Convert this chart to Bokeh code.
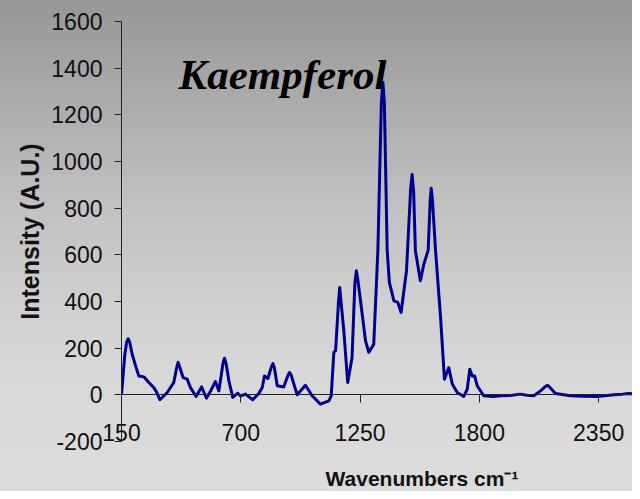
from bokeh.plotting import figure
from bokeh.models import (Range1d, FixedTicker, Label, ColumnDataSource, LinearAxis,
                          CustomJSTickFormatter, Title)
from bokeh.embed import file_html
from bokeh.resources import INLINE

# ---- data ----
wavenumbers = [150, 165, 174, 181, 188, 199, 215, 230, 253, 276, 299, 310, 327, 361, 391, 404, 411,
               418, 434, 453, 468, 494, 519, 542, 563, 583, 599, 618, 625, 632, 645, 663, 686, 699,
               722, 755, 783, 799, 809, 825, 841, 848, 855, 868, 898, 918, 925, 932, 960, 998,
               1029, 1067, 1106, 1117, 1129, 1137, 1150, 1156, 1162, 1175, 1193, 1213, 1226, 1233,
               1240, 1252, 1275, 1290, 1313, 1332, 1348, 1355, 1362, 1375, 1385, 1406, 1424, 1439,
               1464, 1483, 1490, 1497, 1505, 1528, 1544, 1564, 1573, 1578, 1584, 1598, 1621, 1639,
               1659, 1675, 1698, 1728, 1744, 1756, 1767, 1778, 1790, 1820, 1865, 1900, 1950, 1988,
               2020, 2051, 2082, 2108, 2115, 2122, 2151, 2220, 2280, 2343, 2420, 2460, 2489, 2543]
intensity = [0, 170, 228, 240, 225, 175, 124, 81, 77, 53, 31, 15, -21, 10, 53, 115, 139,
             120, 74, 67, 31, -7, 34, -14, 20, 57, 17, 135, 157, 135, 60, -11, 7, -5,
             3, -21, 6, 31, 81, 70, 120, 134, 115, 39, 34, 85, 96, 85, 0, 41,
             -4, -40, -26, -4, 182, 189, 390, 460, 400, 275, 53, 160, 480, 532,
             490, 403, 232, 182, 217, 618, 1250, 1340, 1250, 618, 482, 403, 396, 353,
             532, 880, 944, 870, 618, 489, 560, 620, 830, 885, 830, 618, 332, 67,
             117, 46, 10, -7, 24, 110, 81, 81, 39, -4, -7, -4, -2, 3,
             -2, -4, 17, 38, 41, 35, 6, -4, -6, -7, 0, 3, 6, 0]
x_ticks = [150, 700, 1250, 1800, 2350]
y_ticks = [-200, 0, 200, 400, 600, 800, 1000, 1200, 1400, 1600]

source = ColumnDataSource(data=dict(w=wavenumbers, i=intensity))

p = figure(width=632, height=491,
           x_range=Range1d(150, 2506), y_range=Range1d(-200, 1600),
           output_backend="svg", toolbar_location=None,
           min_border_left=121, min_border_right=0,
           min_border_top=21, min_border_bottom=50)

p.background_fill_color = None
p.border_fill_color = None
p.outline_line_color = None
p.styles = {"background": "linear-gradient(180deg, #979797 0%, #c4c4c4 45%, #d8d8d8 75%, #dcdcdc 100%)"}
p.grid.visible = False

p.line(x="w", y="i", source=source, line_color="#000090", line_width=3, line_join="round")

axis_color = "#222222"
label_color = "#111111"
plain = CustomJSTickFormatter(code="return tick.toString()")

# x axis line and ticks crossing at zero (labels drawn by the second axis)
p.xaxis.fixed_location = 0
p.xaxis.ticker = FixedTicker(ticks=x_ticks)
p.xaxis.formatter = CustomJSTickFormatter(code="return ''")
p.xaxis.minor_tick_line_color = None
p.xaxis.major_tick_in = 0
p.xaxis.major_tick_out = 8
p.xaxis.axis_line_color = axis_color
p.xaxis.major_tick_line_color = axis_color

# tick labels of the x axis (its blank axis label only reserves room for the title below)
xlab = LinearAxis(ticker=FixedTicker(ticks=x_ticks), formatter=plain)
xlab.axis_line_color = None
xlab.major_tick_line_color = None
xlab.minor_tick_line_color = None
xlab.major_tick_in = 0
xlab.major_tick_out = 0
xlab.major_label_standoff = -18
xlab.major_label_text_font = "Liberation Sans"
xlab.major_label_text_font_size = "23px"
xlab.major_label_text_color = label_color
xlab.axis_label = "\u00a0"
xlab.axis_label_standoff = 0
xlab.axis_label_text_font_size = "15px"
p.add_layout(xlab, "below")

p.yaxis.ticker = FixedTicker(ticks=y_ticks)
p.yaxis.formatter = plain
p.yaxis.minor_tick_line_color = None
p.yaxis.major_tick_in = 0
p.yaxis.major_tick_out = 7
p.yaxis.major_label_standoff = 12
p.yaxis.axis_line_color = axis_color
p.yaxis.major_tick_line_color = axis_color
p.yaxis.major_label_text_font = "Liberation Sans"
p.yaxis.major_label_text_font_size = "23px"
p.yaxis.major_label_text_color = label_color
p.yaxis.axis_label = "Intensity (A.U.)"
p.yaxis.axis_label_text_font = "Liberation Sans"
p.yaxis.axis_label_text_font_style = "bold"
p.yaxis.axis_label_text_font_size = "25px"
p.yaxis.axis_label_text_color = label_color
p.yaxis.axis_label_standoff = 4

p.add_layout(Label(x=413, y=1373, text="Kaempferol", text_font="Liberation Serif",
                   text_font_style="bold italic", text_font_size="43px",
                   text_color="#000000", text_baseline="alphabetic"))

p.add_layout(Title(text="Wavenumbers cm\u207b\u00b9", align="left", offset=204, standoff=2,
                   vertical_align="bottom",
                   text_font="Liberation Sans", text_font_style="bold",
                   text_font_size="21px", text_color=label_color), "below")

open("out.html", "w").write(file_html(p, INLINE))
